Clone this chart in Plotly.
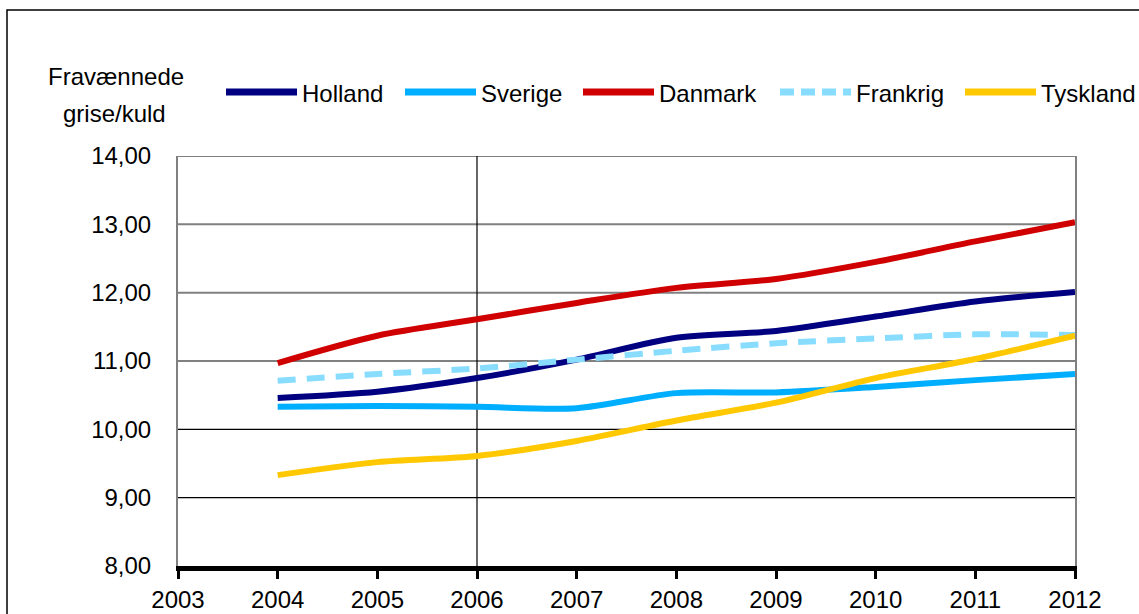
import plotly.graph_objects as go

# data (weaned piglets per litter)
years = [2004, 2005, 2006, 2007, 2008, 2009, 2010, 2011, 2012]
holland = [10.46, 10.55, 10.75, 11.02, 11.34, 11.44, 11.65, 11.87, 12.01]
sverige = [10.33, 10.34, 10.33, 10.31, 10.53, 10.54, 10.62, 10.72, 10.81]
danmark = [10.97, 11.37, 11.61, 11.85, 12.07, 12.20, 12.45, 12.75, 13.03]
frankrig = [10.71, 10.81, 10.89, 11.02, 11.15, 11.26, 11.33, 11.39, 11.38]
tyskland = [9.33, 9.52, 9.61, 9.83, 10.13, 10.39, 10.75, 11.03, 11.37]

series = [
    ("Holland", holland, "#000080", "solid"),
    ("Sverige", sverige, "#00AEFF", "solid"),
    ("Danmark", danmark, "#D00000", "solid"),
    ("Frankrig", frankrig, "#88DDFF", "18px,11px"),
    ("Tyskland", tyskland, "#FFC800", "solid"),
]

font = "Liberation Sans, Arial, sans-serif"

# plot area in window pixels: x 178..1075, y 156..566
def px(x):
    return (x - 178) / 897.0

def py(y):
    return (566 - y) / 410.0

fig = go.Figure()
for name, vals, col, dash in series:
    fig.add_trace(go.Scatter(x=years, y=vals, name=name, mode="lines",
                             showlegend=False,
                             line=dict(color=col, width=6, dash=dash,
                                       shape="spline", smoothing=0.8)))

# grid: grey above 10, black at 9 and 10, black vertical at 2006
for yv in [11, 12, 13, 14]:
    fig.add_shape(type="line", xref="x", yref="y", x0=2003, x1=2012, y0=yv, y1=yv,
                  line=dict(color="#808080", width=2), layer="below")
for yv in [9, 10]:
    fig.add_shape(type="line", xref="x", yref="y", x0=2003, x1=2012, y0=yv, y1=yv,
                  line=dict(color="black", width=1.2), layer="below")
fig.add_shape(type="line", xref="x", yref="y", x0=2006, x1=2006, y0=8, y1=14,
              line=dict(color="black", width=1.2), layer="below")

# outer frame
fig.add_shape(type="rect", xref="paper", yref="paper",
              x0=px(7), x1=px(1170), y0=py(640), y1=py(10),
              line=dict(color="black", width=1.5))

# legend drawn by hand (long line keys like the original)
leg_x = [226, 405, 583, 780, 965]
for (name, vals, col, dash), x0 in zip(series, leg_x):
    fig.add_shape(type="line", xref="paper", yref="paper",
                  x0=px(x0), x1=px(x0 + 71), y0=py(92), y1=py(92),
                  line=dict(color=col, width=7, dash="14px,7px" if dash != "solid" else "solid"))
    fig.add_annotation(text=name, xref="paper", yref="paper",
                       x=px(x0 + 74), y=py(93), xanchor="left", yanchor="middle",
                       showarrow=False, font=dict(size=24, color="black", family=font))

fig.add_annotation(text="Fravænnede", xref="paper", yref="paper",
                   x=px(116), y=py(76), xanchor="center", yanchor="middle",
                   showarrow=False, font=dict(size=24, color="black", family=font))
fig.add_annotation(text="grise/kuld", xref="paper", yref="paper",
                   x=px(114), y=py(114), xanchor="center", yanchor="middle",
                   showarrow=False, font=dict(size=24, color="black", family=font))

fig.update_layout(
    width=1139, height=614,
    margin=dict(l=178, r=64, t=156, b=48),
    plot_bgcolor="white", paper_bgcolor="white",
    font=dict(family=font, size=24, color="black"),
    separators=",.",
    showlegend=False,
)

fig.update_xaxes(range=[2003, 2012], tickmode="array",
                 tickvals=list(range(2003, 2013)),
                 showgrid=False, zeroline=False, automargin=False,
                 showline=True, linecolor="black", linewidth=5,
                 ticks="outside", ticklen=8, tickwidth=3, tickcolor="black",
                 tickfont=dict(size=24, color="black"))
fig.update_yaxes(range=[8, 14], dtick=1, tickformat=".2f",
                 showgrid=False, zeroline=False, automargin=False,
                 showline=True, linecolor="#808080", linewidth=2, mirror=True,
                 ticks="", ticklabelstandoff=20,
                 tickfont=dict(size=24, color="black"))

# drop the default body margin so the figure fills the window exactly
fig.write_html("out.html", config={"displayModeBar": False},
               post_script="document.body.style.margin='0';document.body.style.overflow='hidden';")
